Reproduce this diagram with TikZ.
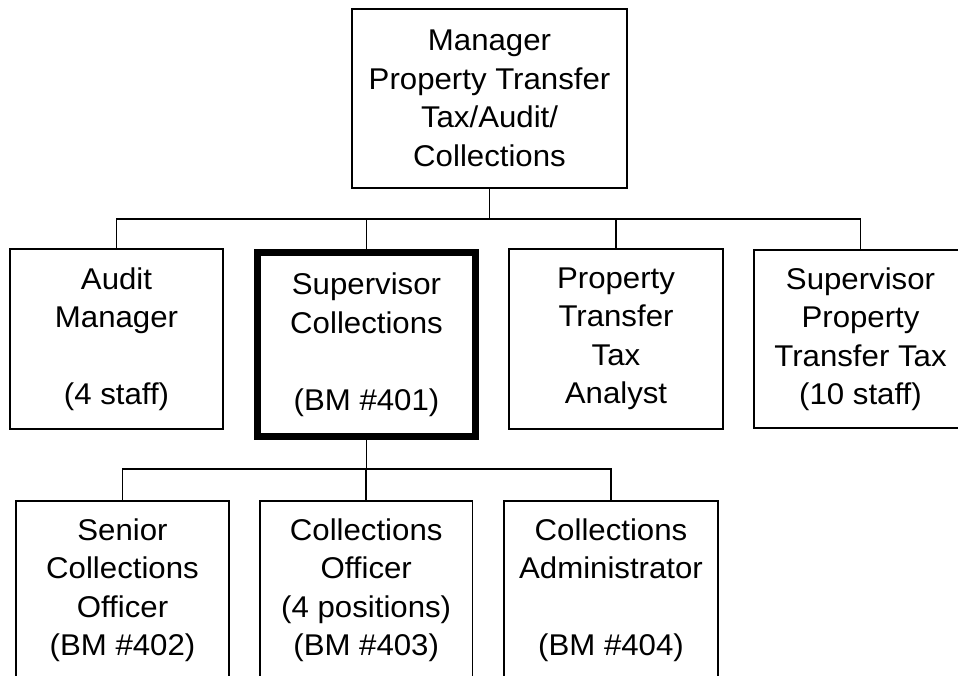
\documentclass[tikz,border=0pt]{standalone}
\usepackage{fontspec}
\setmainfont{Liberation Sans}[FakeStretch=1.04]
\begin{document}
\begin{tikzpicture}[x=1pt,y=-1pt,
  box/.style={draw=black, line width=1.8pt, rectangle, inner sep=0pt, align=center,
    font=\fontsize{30}{38.5}\selectfont},
  conn/.style={draw=black, line width=1.8pt}]
\useasboundingbox (0,0) rectangle (958,675);
\clip (0,0) rectangle (958,675);
\fill[white] (0,0) rectangle (958,675);
% top
\node[box, minimum width=275pt, minimum height=179pt] (top) at (489.5,98.5)
  {Manager\\Property Transfer\\Tax/Audit/\\Collections};
% second row
\node[box, minimum width=213pt, minimum height=180pt] (audit) at (116.5,339)
  {Audit\\Manager\\\mbox{}\\(4 staff)};
\node[box, line width=7pt, minimum width=218pt, minimum height=184pt] (supcoll) at (366.5,344.5)
  {Supervisor\\Collections\\\mbox{}\\(BM \#401)};
\node[box, minimum width=214pt, minimum height=180pt] (ptta) at (616,339)
  {Property\\Transfer\\Tax\\Analyst};
\node[box, minimum width=213pt, minimum height=178pt] (supptt) at (860.5,339)
  {Supervisor\\Property\\Transfer Tax\\(10 staff)};
% third row
\node[box, minimum width=213pt, minimum height=178pt] (senior) at (122.5,590)
  {Senior\\Collections\\Officer\\(BM \#402)};
\node[box, minimum width=212.5pt, minimum height=178pt] (collof) at (366.2,590)
  {Collections\\Officer\\(4 positions)\\(BM \#403)};
\node[box, minimum width=214pt, minimum height=178pt] (admin) at (611,590)
  {Collections\\Administrator\\\mbox{}\\(BM \#404)};
% connectors
\coordinate (b1) at (489.5,219);
\coordinate (b2) at (366.5,469);
\draw[conn] (top.south) -- (b1);
\draw[conn] (audit.north) |- (b1);
\draw[conn] (supcoll.north) |- (b1);
\draw[conn] (ptta.north) |- (b1);
\draw[conn] (supptt.north) |- (b1);
\draw[conn] (supcoll.south) -- (b2);
\draw[conn] (senior.north) |- (b2);
\draw[conn] (collof.north) |- (b2);
\draw[conn] (admin.north) |- (b2);
\end{tikzpicture}
\end{document}
